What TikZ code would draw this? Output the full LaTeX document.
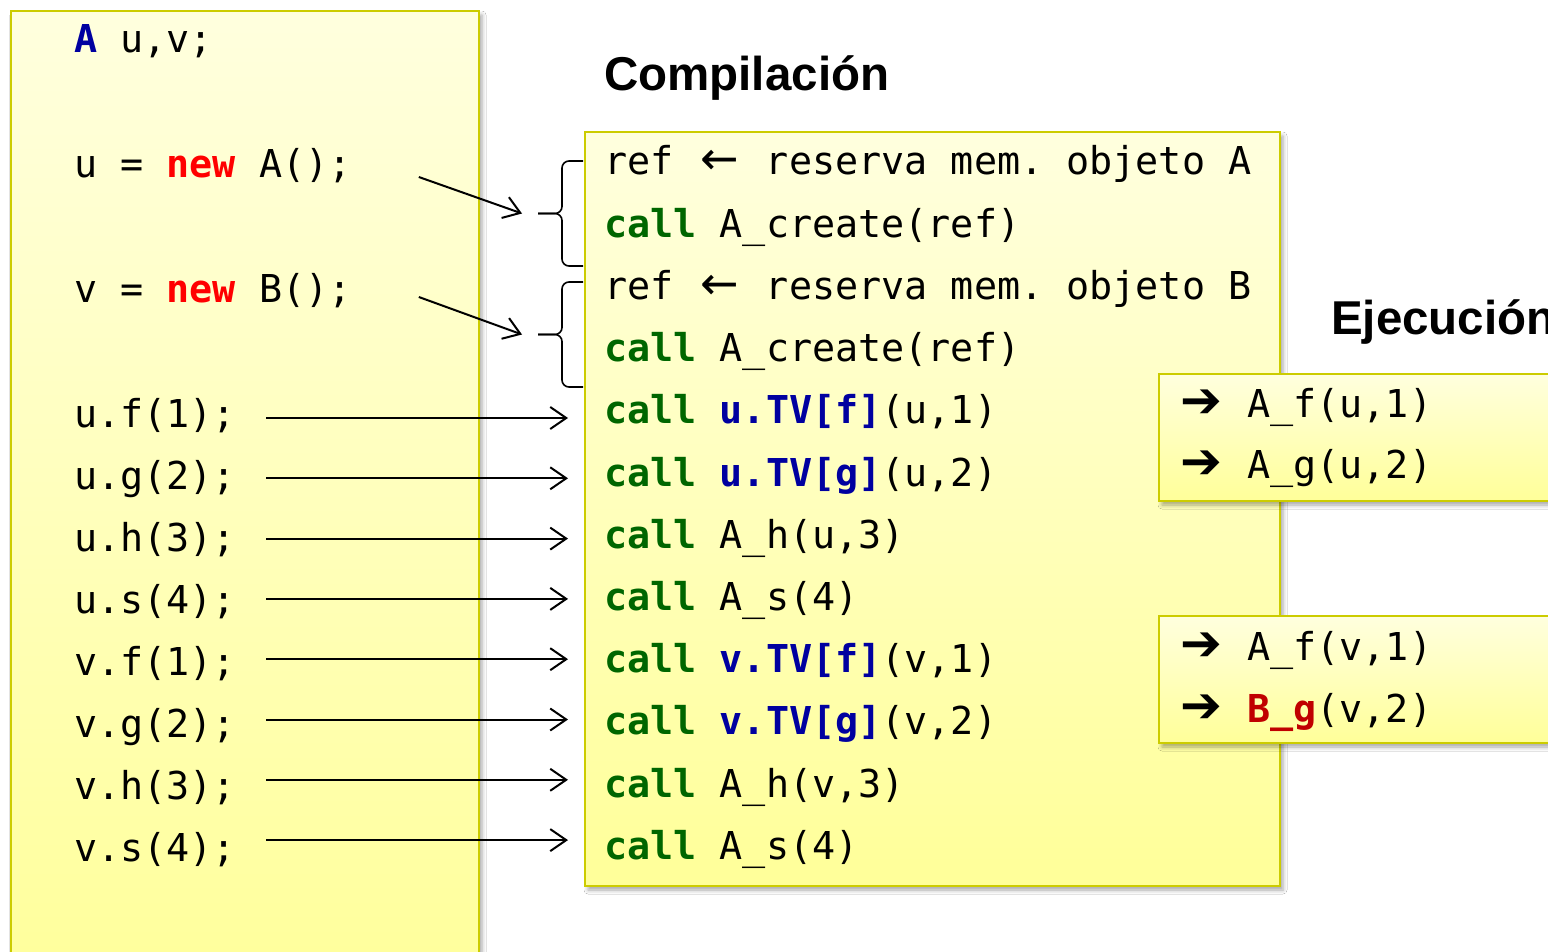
\documentclass[tikz,border=0pt]{standalone}
\usepackage{fontspec}
\setmainfont{Liberation Sans}
\newfontfamily\codefont{DejaVu Sans Mono}
\newfontfamily\symfont{DejaVu Sans}
\usetikzlibrary{calc,arrows.meta,shadows.blur}
\definecolor{boxtop}{HTML}{FFFFDE}
\definecolor{boxbot}{HTML}{FFFF99}
\definecolor{boxedge}{HTML}{CCCC00}
\definecolor{kwblue}{HTML}{0000A0}
\definecolor{kwred}{HTML}{FF0000}
\definecolor{kwgreen}{HTML}{006600}
\definecolor{kwdred}{HTML}{C00000}
\newcommand{\kwcall}{\textcolor{kwgreen}{\bfseries call}}
\newcommand{\kwblu}[1]{\textcolor{kwblue}{\bfseries #1}}
\newcommand{\arrsym}{\makebox[67pt][l]{\symfont\fontsize{50}{56}\selectfont ➔}}
\newcommand{\larr}{\makebox[46.2pt][c]{\symfont\fontsize{46}{50}\selectfont ←}}
\frenchspacing
\begin{document}
\begin{tikzpicture}[x=1pt,y=-1pt,
  ybox/.style={draw=boxedge, line width=2pt, top color=boxtop, bottom color=boxbot,
    inner sep=0pt, anchor=north west,
    blur shadow={shadow xshift=3pt, shadow yshift=-4pt, shadow blur radius=4pt, shadow opacity=35}},
  code/.style={font=\codefont\fontsize{38.4}{46}\selectfont, inner sep=0pt, anchor=base west},
  title/.style={font=\bfseries\fontsize{47.5}{56}\selectfont, inner sep=0pt, anchor=base west},
  arr/.style={-{Straight Barb[length=16pt,width=22pt,line width=2pt]}, line width=2pt},
  lbrace/.style={line width=1.6pt, rounded corners=7pt}
]
\clip (0,0) rectangle (1548,952);
\fill[white] (0,0) rectangle (1548,952);

% boxes
\node[ybox, minimum width=468pt, minimum height=1000pt] (lbox) at (10,10) {};
\node[ybox, minimum width=695pt, minimum height=754pt] (cbox) at (584,131) {};
\node[ybox, minimum width=450pt, minimum height=127pt] (ebox1) at (1158,373) {};
\node[ybox, minimum width=450pt, minimum height=127pt] (ebox2) at (1158,615) {};

% titles
\node[title] (t1) at (604,91) {Compilación};
\node[title] (t2) at (1331,334) {Ejecución};

% left code
\node[code] (l1) at (74,53) {\textcolor{kwblue}{\bfseries A} u,v;};
\node[code] (l2) at (74,178) {u = \textcolor{kwred}{\bfseries new} A();};
\node[code] (l3) at (74,302) {v = \textcolor{kwred}{\bfseries new} B();};
\node[code] (l4) at (74,427) {u.f(1);};
\node[code] (l5) at (74,489) {u.g(2);};
\node[code] (l6) at (74,551) {u.h(3);};
\node[code] (l7) at (74,613) {u.s(4);};
\node[code] (l8) at (74,675) {v.f(1);};
\node[code] (l9) at (74,737) {v.g(2);};
\node[code] (l10) at (74,799) {v.h(3);};
\node[code] (l11) at (74,861) {v.s(4);};

% compiled code
\node[code] (c1) at (604,175) {ref \larr{} reserva mem. objeto A};
\node[code] (c2) at (604,237.2) {\kwcall{} A\_create(ref)};
\node[code] (c3) at (604,299.4) {ref \larr{} reserva mem. objeto B};
\node[code] (c4) at (604,361.6) {\kwcall{} A\_create(ref)};
\node[code] (c5) at (604,423.8) {\kwcall{} \kwblu{u.TV[f]}(u,1)};
\node[code] (c6) at (604,486) {\kwcall{} \kwblu{u.TV[g]}(u,2)};
\node[code] (c7) at (604,548.2) {\kwcall{} A\_h(u,3)};
\node[code] (c8) at (604,610.4) {\kwcall{} A\_s(4)};
\node[code] (c9) at (604,672.6) {\kwcall{} \kwblu{v.TV[f]}(v,1)};
\node[code] (c10) at (604,734.8) {\kwcall{} \kwblu{v.TV[g]}(v,2)};
\node[code] (c11) at (604,797) {\kwcall{} A\_h(v,3)};
\node[code] (c12) at (604,859.2) {\kwcall{} A\_s(4)};

% execution
\node[code] (e1) at (1180,417) {\arrsym A\_f(u,1)};
\node[code] (e2) at (1180,478) {\arrsym A\_g(u,2)};
\node[code] (e3) at (1180,660) {\arrsym A\_f(v,1)};
\node[code] (e4) at (1180,722) {\arrsym \textcolor{kwdred}{\bfseries B\_g}(v,2)};

% braces
\coordinate (top1) at ($(cbox.north west)+(-1,30)$);
\coordinate (bot1) at ($(cbox.north west)+(-1,135)$);
\coordinate (top2) at ($(cbox.north west)+(-1,151)$);
\coordinate (bot2) at ($(cbox.north west)+(-1,256)$);
\coordinate (mid1) at ($(top1)!0.5!(bot1)+(-21,0)$);
\coordinate (mid2) at ($(top2)!0.5!(bot2)+(-21,0)$);
\draw[lbrace] (top1) -| (mid1) -- ++(-24,0);
\draw[lbrace] (bot1) -| (mid1) -- ++(-24,0);
\draw[lbrace] (top2) -| (mid2) -- ++(-24,0);
\draw[lbrace] (bot2) -| (mid2) -- ++(-24,0);
\coordinate (tipA) at ($(mid1)+(-40,0)$);
\coordinate (tipB) at ($(mid2)+(-40,0)$);

% arrows
\draw[arr] ($(l2.base east)+(67,-1)$) -- (tipA);
\draw[arr] ($(l3.base east)+(67,-5)$) -- (tipB);
\foreach \i [count=\k from 0] in {4,...,11} {
  \pgfmathtruncatemacro\j{\i+1}
  \pgfmathsetmacro\off{-9-1.7*\k}
  \draw[arr] ($(l\i.base east)+(30,\off)$) -- ($(l\i.base east -| c\j.base west)+(-36,\off)$);
}
\end{tikzpicture}
\end{document}
